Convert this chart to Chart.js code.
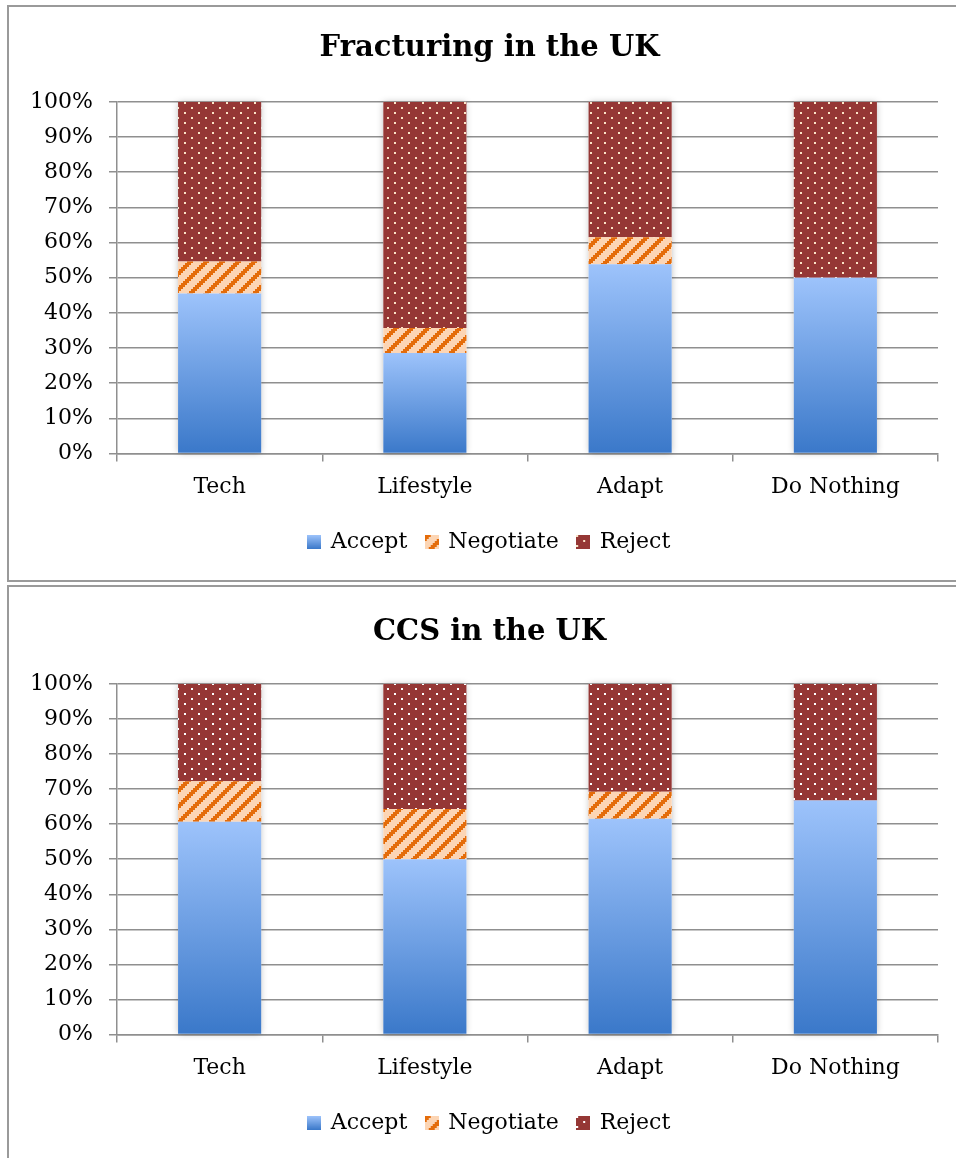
<!DOCTYPE html>
<html>
<head>
<meta charset="utf-8">
<script src="https://cdn.jsdelivr.net/npm/chart.js@4.4.1/dist/chart.umd.min.js"></script>
<style>
  html, body { margin: 0; padding: 0; background: #fff; overflow: hidden; }
  .frame { position: absolute; left: 7px; width: 970px; border: 2px solid #9a9a9a; box-sizing: border-box; background: #fff; }
  #f1 { top: 5px; height: 577px; }
  #f2 { top: 585px; height: 600px; }
  canvas { position: absolute; left: 0; }
</style>
</head>
<body>
<div class="frame" id="f1"><canvas id="c1" width="956" height="570" style="top:0px"></canvas></div>
<div class="frame" id="f2"><canvas id="c2" width="956" height="570" style="top:1px"></canvas></div>
<script>
// categories and values (percent of responses)
const categories = ['Tech', 'Lifestyle', 'Adapt', 'Do Nothing'];
const seriesNames = ['Accept', 'Negotiate', 'Reject'];

const fracAccept = [45.5, 28.6, 53.8, 50.0];
const fracNegotiate = [9.1, 7.1, 7.7, 0];
const fracReject = [45.4, 64.3, 38.5, 50.0];

const ccsAccept = [60.7, 50.0, 61.5, 66.7];
const ccsNegotiate = [11.5, 14.3, 7.7, 0];
const ccsReject = [27.8, 35.7, 30.8, 33.3];

const yTicks = [0, 10, 20, 30, 40, 50, 60, 70, 80, 90, 100];

Chart.defaults.font.family = "'DejaVu Serif', serif";
Chart.defaults.color = '#000';

const gridColor = '#8f8f8f';
const blueLight = '#9dc3fb';
const blueDark = '#3a78c9';

function stripePattern(size) {
  const c = document.createElement('canvas');
  c.width = size; c.height = size;
  const g = c.getContext('2d');
  g.fillStyle = '#fcd5b4';
  g.fillRect(0, 0, size, size);
  g.fillStyle = '#e46c0a';
  for (let y = 0; y < size; y += 2) {
    for (let x = 0; x < size; x += 2) {
      if ((x + y) % 16 < 6) g.fillRect(x, y, 2, 2);
    }
  }
  return c;
}

function dotPattern(dot) {
  const c = document.createElement('canvas');
  c.width = 14; c.height = 10;
  const g = c.getContext('2d');
  g.fillStyle = '#953735';
  g.fillRect(0, 0, 14, 10);
  g.fillStyle = dot;
  g.fillRect(0, 0, 2, 2);
  g.fillRect(7, 5, 2, 2);
  return c;
}

function legendIcon(kind, dot) {
  const c = document.createElement('canvas');
  c.width = 14; c.height = 14;
  const g = c.getContext('2d');
  if (kind === 0) {
    const gr = g.createLinearGradient(0, 14, 0, 0);
    gr.addColorStop(0, blueDark);
    gr.addColorStop(1, blueLight);
    g.fillStyle = gr;
  } else if (kind === 1) {
    g.fillStyle = g.createPattern(stripePattern(16), 'repeat');
  } else {
    g.fillStyle = g.createPattern(dotPattern(dot), 'repeat');
  }
  g.fillRect(0, 0, 14, 14);
  return c;
}

function acceptFill(ctx) {
  const chart = ctx.chart;
  const y = chart.scales && chart.scales.y;
  if (!y || ctx.type !== 'data' || !ctx.parsed) return '#7aa6e6';
  const top = y.getPixelForValue(ctx.parsed.y);
  const bottom = y.getPixelForValue(0);
  if (!isFinite(top) || !isFinite(bottom) || top === bottom) return '#7aa6e6';
  const g = chart.ctx.createLinearGradient(0, bottom, 0, top);
  g.addColorStop(0, blueDark);
  g.addColorStop(1, blueLight);
  return g;
}

// soft shadow behind each full stacked bar
const barShadow = {
  id: 'barShadow',
  beforeDatasetsDraw(chart) {
    const metas = chart.getSortedVisibleDatasetMetas();
    if (!metas.length) return;
    const c = chart.ctx;
    c.save();
    c.shadowColor = 'rgba(0,0,0,0.28)';
    c.shadowBlur = 7;
    c.fillStyle = '#fff';
    metas[0].data.forEach((bar, i) => {
      let top = bar.base;
      metas.forEach(m => { const e = m.data[i]; if (e) top = Math.min(top, e.y); });
      c.fillRect(bar.x - bar.width / 2, top, bar.width, bar.base - top);
    });
    c.restore();
  }
};

// title and legend sit a little right of the canvas centre in the original
const shiftBlocks = {
  id: 'shiftBlocks',
  afterLayout(chart) {
    [chart.titleBlock, chart.legend].forEach(b => {
      if (b) { b.left += 16; b.right += 16; }
    });
  }
};

function makeChart(id, title, accept, negotiate, reject, dot, titlePad) {
  const c = document.getElementById(id);
  const stripes = c.getContext('2d').createPattern(stripePattern(16), 'repeat');
  const dots = c.getContext('2d').createPattern(dotPattern(dot), 'repeat');
  const icons = [legendIcon(0, dot), legendIcon(1, dot), legendIcon(2, dot)];
  return new Chart(c, {
    type: 'bar',
    data: {
      labels: categories,
      datasets: [
        { label: seriesNames[0], data: accept, backgroundColor: acceptFill },
        { label: seriesNames[1], data: negotiate, backgroundColor: stripes },
        { label: seriesNames[2], data: reject, backgroundColor: dots }
      ]
    },
    options: {
      responsive: false,
      animation: false,
      events: [],
      layout: { padding: { left: 0, right: 27, top: 0, bottom: 14 } },
      datasets: { bar: { categoryPercentage: 1, barPercentage: 0.405, borderWidth: 0 } },
      plugins: {
        title: {
          display: true,
          text: title,
          color: '#000',
          font: { size: 29, weight: 'bold' },
          padding: titlePad
        },
        legend: {
          position: 'bottom',
          labels: {
            usePointStyle: true,
            boxWidth: 14,
            boxHeight: 14,
            pointStyleWidth: 11,
            padding: 19,
            font: { size: 22 },
            generateLabels: () => seriesNames.map((n, i) => ({
              text: n, pointStyle: icons[i], fillStyle: '#fff', strokeStyle: '#fff',
              lineWidth: 0, hidden: false, datasetIndex: i
            }))
          }
        },
        tooltip: { enabled: false }
      },
      scales: {
        x: {
          stacked: true,
          grid: { drawOnChartArea: false, tickLength: 8, color: gridColor, lineWidth: 1.5 },
          border: { color: gridColor, width: 1.5 },
          ticks: { font: { size: 22 }, padding: 12 }
        },
        y: {
          stacked: true,
          min: 0,
          max: 100,
          afterFit: s => { s.width = 108; },
          afterBuildTicks: s => { s.ticks = yTicks.map(v => ({ value: v })); },
          grid: { color: gridColor, lineWidth: 1.5, tickLength: 8 },
          border: { color: gridColor, width: 1.5 },
          ticks: { font: { size: 22 }, padding: 16, callback: v => v + '%' }
        }
      }
    },
    plugins: [barShadow, shiftBlocks]
  });
}

makeChart('c1', 'Fracturing in the UK', fracAccept, fracNegotiate, fracReject, '#fbe3c6', { top: 24, bottom: 36 });
makeChart('c2', 'CCS in the UK', ccsAccept, ccsNegotiate, ccsReject, '#ffffff', { top: 27, bottom: 34 });
</script>
</body>
</html>
